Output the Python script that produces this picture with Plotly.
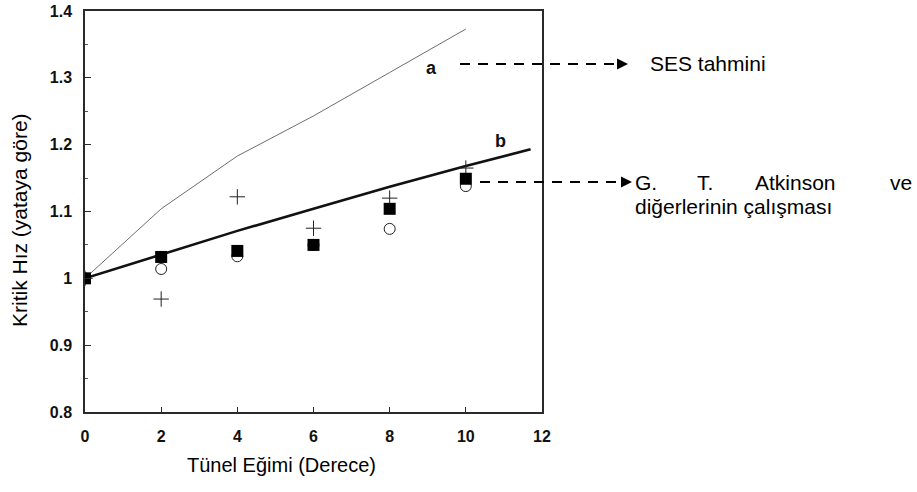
import plotly.graph_objects as go

# Tunnel slope (degrees) and critical velocity relative to a level tunnel
slope = [0, 2, 4, 6, 8, 10]

# curve a: SES prediction
curve_a_x = [0, 2, 4, 6, 8, 10]
curve_a_y = [1.0, 1.104, 1.183, 1.243, 1.308, 1.373]

# curve b: fitted relation
curve_b_x = [0, 2, 4, 6, 8, 10, 11.7]
curve_b_y = [1.0, 1.036, 1.071, 1.104, 1.137, 1.168, 1.193]

# measured points
filled_square = [1.0, 1.032, 1.041, 1.05, 1.104, 1.149]
open_circle = [1.0, 1.014, 1.033, 1.05, 1.074, 1.138]
plus_mark = [1.0, 0.969, 1.122, 1.075, 1.12, 1.165]

x_ticks = [0, 2, 4, 6, 8, 10, 12]
x_tick_text = ["0", "2", "4", "6", "8", "10", "12"]
y_ticks = [0.8, 0.9, 1.0, 1.1, 1.2, 1.3, 1.4]
y_tick_text = ["0.8", "0.9", "1", "1.1", "1.2", "1.3", "1.4"]

W, H = 917, 492
L, R, T, B = 85, 542, 11, 412  # plot area in pixels


def px(p):
    return (p - L) / (R - L)


def py(p):
    return 1 - (p - T) / (B - T)


fig = go.Figure()

fig.add_trace(go.Scatter(x=curve_a_x, y=curve_a_y, mode="lines",
                         line=dict(color="#6e6e6e", width=1)))
fig.add_trace(go.Scatter(x=curve_b_x, y=curve_b_y, mode="lines",
                         line=dict(color="#111111", width=2.6)))
fig.add_trace(go.Scatter(x=slope, y=open_circle, mode="markers",
                         marker=dict(symbol="circle-open", size=11,
                                     color="#222222", line=dict(width=1))))
fig.add_trace(go.Scatter(x=slope, y=plus_mark, mode="markers",
                         marker=dict(symbol="cross-thin-open", size=11,
                                     color="#222222", line=dict(width=1))))
fig.add_trace(go.Scatter(x=slope, y=filled_square, mode="markers",
                         marker=dict(symbol="square", size=12, color="#000000",
                                     line=dict(width=0))))

font = "Arial, Liberation Sans, sans-serif"


def note(x, y, text, size=21, xanchor="left", **kw):
    return dict(x=px(x), y=py(y), xref="paper", yref="paper", text=text,
                showarrow=False, xanchor=xanchor, yanchor="middle",
                font=dict(size=size, color="#000", family=font), **kw)


annotations = [
    dict(x=9.11, y=1.315, xref="x", yref="y", text="<b>a</b>", showarrow=False,
         font=dict(size=18, color="#111", family=font)),
    dict(x=10.92, y=1.205, xref="x", yref="y", text="<b>b</b>", showarrow=False,
         font=dict(size=18, color="#111", family=font)),
    note(281, 465, "Tünel Eğimi (Derece)", size=20, xanchor="center"),
    note(20, 220, "Kritik Hız (yataya göre)", size=21, xanchor="center", textangle=-90),
    note(648, 64, "SES tahmini"),
    note(633, 206, "diğerlerinin çalışması"),
]
# justified first line of the second label
for word, left in [("G.", 633), ("T.", 695), ("Atkinson", 753)]:
    annotations.append(note(left, 183, word))
annotations.append(note(914, 183, "ve", xanchor="right"))

# arrow heads
for tip, yy in [(628, 64), (632, 182)]:
    annotations.append(dict(x=px(tip), y=py(yy), xref="paper", yref="paper",
                            ax=-10, ay=0, text="", showarrow=True,
                            arrowhead=2, arrowwidth=2, arrowsize=1.1,
                            arrowcolor="#000", standoff=0))

shapes = [
    dict(type="line", xref="paper", yref="paper", x0=px(460), x1=px(620),
         y0=py(64), y1=py(64), line=dict(color="#000", width=2, dash="10px,8px")),
    dict(type="line", xref="paper", yref="paper", x0=px(480), x1=px(624),
         y0=py(182), y1=py(182), line=dict(color="#000", width=2, dash="10px,8px")),
]

axis_common = dict(showline=True, mirror=True, linecolor="#2a2a2a", linewidth=1.5,
                   showgrid=False, zeroline=False, ticks="inside",
                   tickcolor="#2a2a2a",
                   tickfont=dict(size=16, color="#111", family=font, weight="bold"))

fig.update_layout(
    width=W, height=H,
    margin=dict(l=L, r=W - R, t=T, b=H - B, autoexpand=False),
    paper_bgcolor="white", plot_bgcolor="white",
    showlegend=False,
    xaxis=dict(range=[0, 12], tickvals=x_ticks, ticktext=x_tick_text,
               ticklen=5, ticklabelstandoff=9, **axis_common),
    yaxis=dict(range=[0.8, 1.4], tickvals=y_ticks, ticktext=y_tick_text,
               ticklen=6, ticklabelstandoff=8,
               minor=dict(ticks="inside", dtick=0.05, ticklen=3, tickcolor="#555"),
               **axis_common),
    annotations=annotations,
    shapes=shapes,
)

fig.write_html("out.html")
